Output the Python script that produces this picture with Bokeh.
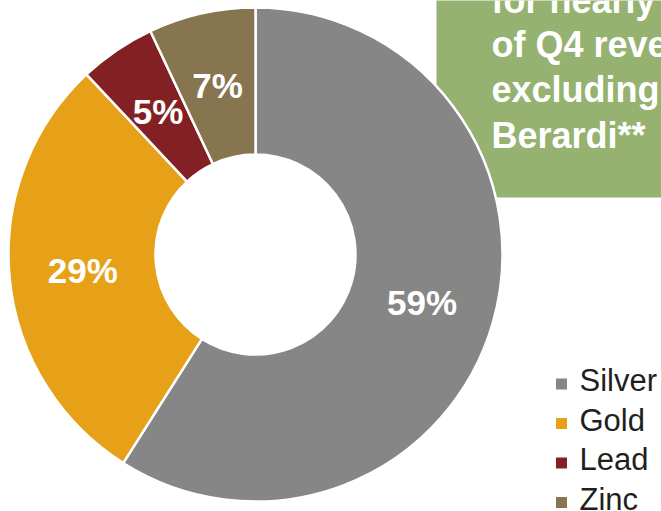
import math
from bokeh.plotting import figure
from bokeh.models import Range1d, ColumnDataSource
from bokeh.core.properties import value
from bokeh.embed import file_html
from bokeh.resources import INLINE

# ---- data ----
categories = ["Silver", "Gold", "Lead", "Zinc"]
shares = [59, 29, 5, 7]
colors = ["#868686", "#E6A119", "#822024", "#86754F"]
pct_labels = ["59%", "29%", "5%", "7%"]
box_lines = ["for nearly", "of Q4 reve", "excluding", "Berardi**"]
box_color = "#95B270"

# ---- geometry (page pixels, y downward -> negative data y) ----
W, H = 661, 511
cx, cy = 255, -254
r_in, r_out = 100, 247
r_lab = (r_in + r_out) / 2

p = figure(width=W, height=H, output_backend="svg", toolbar_location=None,
           x_range=Range1d(0, W), y_range=Range1d(-H, 0),
           x_axis_location=None, y_axis_location=None,
           min_border=0, outline_line_color=None)
p.grid.visible = False

# green call-out box (drawn under the donut)
p.quad(left=436, right=W + 20, top=20, bottom=-197,
       fill_color=box_color, line_color=None)
box_mid = [0, 44, 89, 135]
p.text(x=[491] * len(box_lines), y=[-b for b in box_mid], text=box_lines,
       text_font=value("Liberation Sans"), text_font_style="bold",
       text_font_size="36px", text_color="white",
       text_align="left", text_baseline="middle")

# donut
total = sum(shares)
starts, ends, lx, ly = [], [], [], []
cum = 0
for s in shares:
    a0 = math.pi / 2 - 2 * math.pi * cum / total
    a1 = math.pi / 2 - 2 * math.pi * (cum + s) / total
    mid = (a0 + a1) / 2
    starts.append(a0)
    ends.append(a1)
    lx.append(cx + r_lab * math.cos(mid))
    ly.append(cy + r_lab * math.sin(mid))
    cum += s

src = ColumnDataSource(dict(cat=categories, start=starts, end=ends,
                            color=colors, lx=lx, ly=ly, lab=pct_labels))
p.annular_wedge(x=cx, y=cy, inner_radius=r_in, outer_radius=r_out,
                start_angle="start", end_angle="end", direction="clock",
                fill_color="color", line_color="white", line_width=2.5,
                source=src)
p.text(x="lx", y="ly", text="lab", source=src,
       text_font=value("Liberation Sans"), text_font_style="bold",
       text_font_size="35px", text_color="white",
       text_align="center", text_baseline="middle")

# legend
leg_y = [-(383.5 + i * 39.5) for i in range(len(categories))]
p.scatter(x=[561] * len(categories), y=leg_y, marker="square", size=11,
          fill_color=colors, line_color=None)
p.text(x=[579] * len(categories), y=[y + 3.5 for y in leg_y], text=categories,
       text_font=value("Liberation Sans"), text_font_size="31px",
       text_color="#1F1F1F", text_align="left", text_baseline="middle")

open("out.html", "w").write(file_html(p, INLINE))
